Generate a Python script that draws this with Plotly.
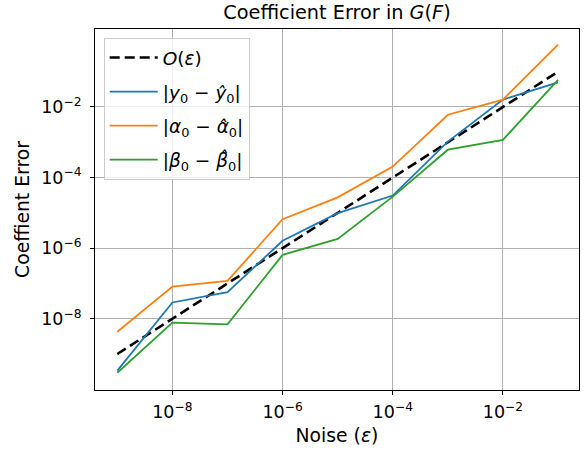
import plotly.graph_objects as go

noise = [1e-9, 1e-8, 1e-7, 1e-6, 1e-5, 1e-4, 1e-3, 1e-2, 1e-1]
order_eps = [1e-9, 1e-8, 1e-7, 1e-6, 1e-5, 1e-4, 1e-3, 1e-2, 1e-1]
log_err_y0 = [-9.47, -7.54, -7.25, -5.79, -5.01, -4.51, -2.98, -1.79, -1.30]
log_err_alpha0 = [-8.37, -7.09, -6.93, -5.18, -4.56, -3.69, -2.22, -1.79, -0.23]
log_err_beta0 = [-9.53, -8.11, -8.16, -6.19, -5.74, -4.54, -3.21, -2.93, -1.23]

y_tickvals = [1e-8, 1e-6, 1e-4, 1e-2]
y_ticktext = ["10<sup>−8</sup>", "10<sup>−6</sup>", "10<sup>−4</sup>", "10<sup>−2</sup>"]
x_tickvals = [1e-8, 1e-6, 1e-4, 1e-2]
x_ticktext = ["10<sup>−8</sup>", "10<sup>−6</sup>", "10<sup>−4</sup>", "10<sup>−2</sup>"]

err_y0 = [10 ** v for v in log_err_y0]
err_alpha0 = [10 ** v for v in log_err_alpha0]
err_beta0 = [10 ** v for v in log_err_beta0]

FONT = "DejaVu Sans, Liberation Sans, sans-serif"
FS = 16.5
LABEL_FS = 18.8

fig = go.Figure()
fig.add_trace(go.Scatter(x=noise, y=order_eps, mode="lines",
                         name="<i>O</i>(<i>ε</i>)", legendgroup="a",
                         line=dict(color="black", width=2.6, dash="10px,5px")))
fig.add_trace(go.Scatter(x=noise, y=err_y0, mode="lines",
                         name="|<i>y</i><sub>0</sub> − <i>ŷ</i><sub>0</sub>|", legendgroup="b",
                         line=dict(color="#1f77b4", width=1.8)))
fig.add_trace(go.Scatter(x=noise, y=err_alpha0, mode="lines",
                         name="|<i>α</i><sub>0</sub> − <i>α̂</i><sub>0</sub>|", legendgroup="c",
                         line=dict(color="#ff7f0e", width=1.8)))
fig.add_trace(go.Scatter(x=noise, y=err_beta0, mode="lines",
                         name="|<i>β</i><sub>0</sub> − <i>β̂</i><sub>0</sub>|", legendgroup="d",
                         line=dict(color="#2ca02c", width=1.8)))

axis_common = dict(
    type="log",
    showline=True, linecolor="black", linewidth=1, mirror=True,
    ticks="outside", ticklen=4, tickcolor="black", tickwidth=1,
    showgrid=True, gridcolor="#b0b0b0", gridwidth=0.8,
    zeroline=False,
    tickfont=dict(family=FONT, size=17.5, color="black"),
)

fig.update_layout(
    width=588, height=454,
    margin=dict(l=95, r=9, t=29, b=64),
    paper_bgcolor="white", plot_bgcolor="white",
    font=dict(family=FONT, size=FS, color="black"),
    title=dict(text="Coefficient Error in <i>G</i>(<i>F</i>)", x=0.5, xref="paper",
               xanchor="center", y=1, yref="container", yanchor="top", pad=dict(t=5),
               font=dict(family=FONT, size=19.3, color="black")),
    xaxis=dict(axis_common, range=[-9.405, -0.62], tickvals=x_tickvals, ticktext=x_ticktext,
               ticklabelstandoff=2,
               title=dict(text="Noise (<i>ε</i>)", font=dict(family=FONT, size=LABEL_FS), standoff=7)),
    yaxis=dict(axis_common, range=[-10.02, 0.21], tickvals=y_tickvals, ticktext=y_ticktext,
               ticklabelstandoff=5,
               title=dict(text="Coeffient Error", font=dict(family=FONT, size=LABEL_FS), standoff=6)),
    legend=dict(x=0.018, y=0.975, xanchor="left", yanchor="top",
                bgcolor="rgba(255,255,255,0.8)", bordercolor="#cccccc", borderwidth=1,
                font=dict(family=FONT, size=18.5, color="black"),
                traceorder="grouped", tracegroupgap=7, itemwidth=48),
    showlegend=True,
)

fig.write_html("out.html")
